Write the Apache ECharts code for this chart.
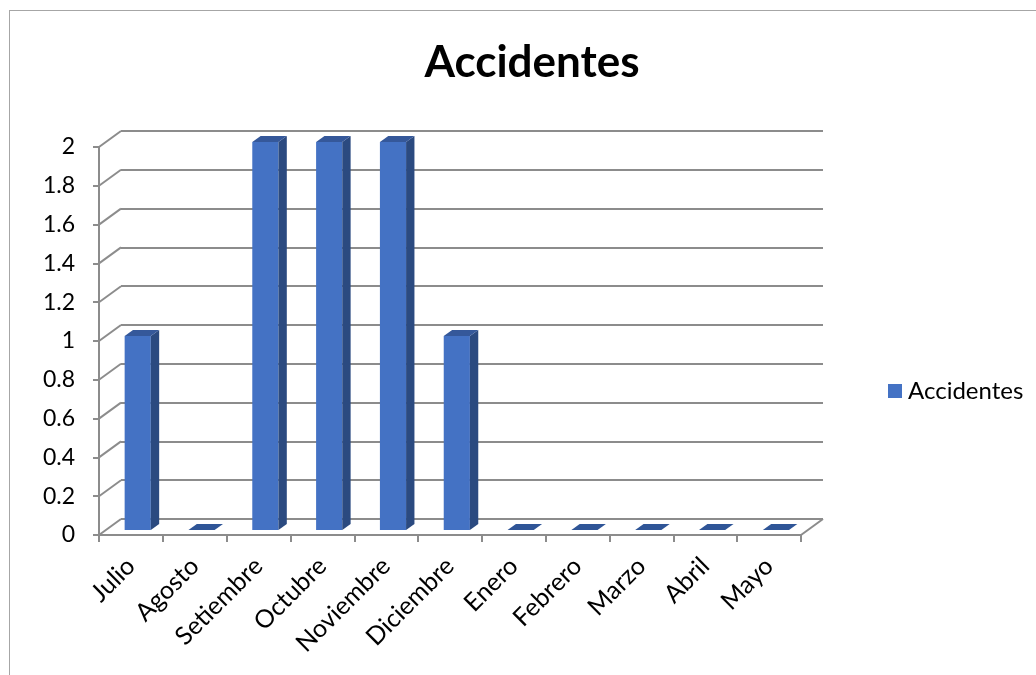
<!DOCTYPE html>
<html>
<head>
<meta charset="utf-8">
<script src="https://cdn.jsdelivr.net/npm/echarts@6/dist/echarts.min.js"></script>
<style>
html,body{margin:0;padding:0;background:#fff;}
#wrap{position:relative;width:1036px;height:675px;overflow:hidden;}
#chart{position:absolute;left:0;top:0;width:1036px;height:675px;}
#frame{position:absolute;left:9px;top:10px;width:1100px;height:700px;border:1px solid #a6a6a6;pointer-events:none;}
</style>
</head>
<body>
<div id="wrap"><div id="chart"></div><div id="frame"></div></div>
<script>
// ---- data ----
const categories = ['Julio','Agosto','Setiembre','Octubre','Noviembre','Diciembre','Enero','Febrero','Marzo','Abril','Mayo'];
const seriesName = 'Accidentes';
const values = [1, 0, 2, 2, 2, 1, 0, 0, 0, 0, 0];
const yMin = 0, yMax = 2, yStep = 0.2;
const yTicks = [0, 0.2, 0.4, 0.6, 0.8, 1, 1.2, 1.4, 1.6, 1.8, 2];

// ---- style constants ----
const DX = 22, DY = -16;          // depth vector of the 3D floor
const F0 = 0.31, F1 = 0.69;       // bar depth fractions
const BAR_W = 0.41;               // bar width as fraction of band
const FONT = 'Lato, "Open Sans", sans-serif';
const GRID_COLOR = '#8c8c8c';

const chart = echarts.init(document.getElementById('chart'));

function renderBar(params, api) {
  const idx = api.value(0), v = api.value(1);
  const p0 = api.coord([idx, 0]);
  const pv = api.coord([idx, v]);
  const band = api.size([1, 0])[0];
  const w = band * BAR_W;
  const xl = p0[0] - w / 2, xr = p0[0] + w / 2;
  const y0 = p0[1], yv = pv[1];
  const o = (x, y, f) => [x + DX * f, y + DY * f];
  const children = [];
  if (v > 0) {
    children.push({type:'polygon', shape:{points:[o(xl,yv,F0),o(xr,yv,F0),o(xr,y0,F0),o(xl,y0,F0)]}, style:{fill:'#4472C4'}});
    children.push({type:'polygon', shape:{points:[o(xr,yv,F0),o(xr,yv,F1),o(xr,y0,F1),o(xr,y0,F0)]}, style:{fill:'#2B4A80'}});
    children.push({type:'polygon', shape:{points:[o(xl,yv,F0),o(xr,yv,F0),o(xr,yv,F1),o(xl,yv,F1)]}, style:{fill:'#35589A'}});
  } else {
    children.push({type:'polygon', shape:{points:[o(xl,y0,F0),o(xr,y0,F0),o(xr,y0,F1),o(xl,y0,F1)]}, style:{fill:'#2F5597'}});
  }
  return {type:'group', children};
}

function renderConnectors(params, api) {
  const v = api.value(0);
  const band = api.size([1, 0])[0];
  const pl = api.coord([0, v]);
  const xL = pl[0] - band / 2;
  const children = [{type:'line', shape:{x1:xL, y1:pl[1], x2:xL+DX, y2:pl[1]+DY}, style:{stroke:GRID_COLOR, lineWidth:2}}];
  if (v === yMin) {
    const pr = api.coord([categories.length - 1, v]);
    const xR = pr[0] + band / 2;
    children.push({type:'line', shape:{x1:xR, y1:pr[1], x2:xR+DX, y2:pr[1]+DY}, style:{stroke:GRID_COLOR, lineWidth:2}});
  }
  return {type:'group', children};
}

const option = {
  backgroundColor: '#fff',
  animation: false,
  title: {
    text: 'Accidentes', left: 527, top: 36, textAlign: 'center',
    textStyle: {fontFamily: FONT, fontSize: 44, fontWeight: 'bold', color: '#000'}
  },
  legend: {
    data: [seriesName], left: 883, top: 374, orient: 'vertical',
    icon: 'rect', itemWidth: 14, itemHeight: 14, itemGap: 8,
    textStyle: {fontFamily: FONT, fontSize: 24, color: '#000', padding: [0, 0, 0, 1]}
  },
  grid: [
    {left: 99, right: 235, top: 147, bottom: 140},
    {left: 99 + DX, right: 235 - DX, top: 147 + DY, bottom: 140 - DY}
  ],
  xAxis: [
    {
      type: 'category', gridIndex: 0, data: categories, boundaryGap: true,
      axisLine: {show: true, lineStyle: {color: GRID_COLOR, width: 2}},
      axisTick: {show: true, alignWithLabel: false, length: 7, lineStyle: {color: GRID_COLOR, width: 2}},
      axisLabel: {rotate: 45, margin: 27, fontFamily: FONT, fontSize: 25, color: '#000', interval: 0}
    },
    {type: 'category', gridIndex: 1, data: categories, show: false}
  ],
  yAxis: [
    {
      type: 'value', gridIndex: 0, min: yMin, max: yMax, interval: yStep,
      axisLine: {show: true, lineStyle: {color: GRID_COLOR, width: 2}},
      axisTick: {show: true, length: 6, lineStyle: {color: GRID_COLOR, width: 2}},
      splitLine: {show: false},
      axisLabel: {margin: 24, fontFamily: FONT, fontSize: 23, color: '#000'}
    },
    {
      type: 'value', gridIndex: 1, min: yMin, max: yMax, interval: yStep,
      axisLine: {show: false}, axisTick: {show: false}, axisLabel: {show: false},
      splitLine: {show: true, lineStyle: {color: GRID_COLOR, width: 2}}
    }
  ],
  series: [
    {
      type: 'custom', name: '_walls', xAxisIndex: 0, yAxisIndex: 0,
      data: yTicks.map(v => [v]), renderItem: renderConnectors, silent: true, z: 1
    },
    {
      type: 'custom', name: seriesName, xAxisIndex: 0, yAxisIndex: 0,
      itemStyle: {color: '#4472C4'},
      data: values.map((v, i) => [i, v]), renderItem: renderBar,
      encode: {x: 0, y: 1}, z: 5
    }
  ]
};
chart.setOption(option);
</script>
</body>
</html>
